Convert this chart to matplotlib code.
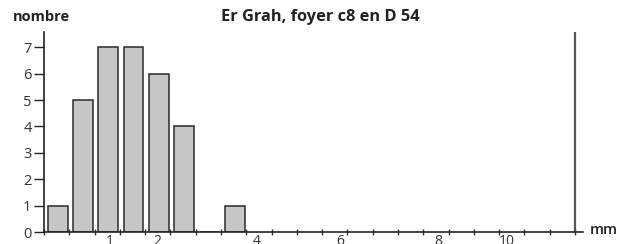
import matplotlib
matplotlib.use("Agg")
import matplotlib.pyplot as plt
import numpy as np

# Data
bin_starts = [0.0, 0.5, 1.0, 1.5, 2.0, 2.5, 3.0, 3.5]   # mm, 0.5 mm classes
counts = [1, 5, 7, 7, 6, 4, 0, 1]
yticks = [0, 1, 2, 3, 4, 5, 6, 7]
xlabel_texts = ['1', '2', '4', '6', '8', '10']
xlabel_pos = [1.3, 2.25, 4.2, 5.85, 7.8, 9.15]
title = "Er Grah, foyer c8 en D 54"

plt.rcParams['font.family'] = ['Open Sans', 'DejaVu Sans']

fig = plt.figure(figsize=(6.23, 2.44), dpi=100)
ax = fig.add_axes([44/623, 12/244, (583-44)/623, (232-32)/244])

bw = 0.5
ax.bar(np.array(bin_starts) + bw/2 + 0.02, counts, width=0.39, color='#c6c6c6',
       edgecolor='#2a2a2a', linewidth=1.1, zorder=2)

ax.set_xlim(0, 10.5 * (583-44)/(575-44))
ax.set_ylim(0, 7.58)

for s in ['top', 'right']:
    ax.spines[s].set_visible(False)
ax.spines['left'].set_color('#222222')
ax.spines['bottom'].set_color('#222222')
ax.spines['left'].set_linewidth(1.2)
ax.spines['bottom'].set_linewidth(1.2)
ax.axvline(10.5, color='#555555', lw=1.6)

# y ticks
ax.set_yticks(yticks)
ax.set_yticklabels([str(v) for v in yticks], fontsize=10.5, color='#333333')
ax.tick_params(axis='y', direction='out', length=7, width=1.0, color='#222222', pad=2)

# x major ticks every 0.5 mm, no labels
ax.set_xticks(np.arange(0, 10.51, 0.5))
ax.tick_params(axis='x', which='major', direction='inout', length=5, width=1.0,
               color='#333333', labelbottom=False)
ax.set_xticks(xlabel_pos, minor=True)
ax.set_xticklabels(xlabel_texts, minor=True, fontsize=10, color='#333333')
ax.tick_params(axis='x', which='minor', length=0, pad=1.5)

fig.text(320/623, 1 - 17/244, title, ha='center', va='center', fontsize=11.8,
         fontweight='bold', color='#222222')
fig.text(13/623, 1 - 17/244, 'nombre', ha='left', va='center', fontsize=10.5,
         fontweight='bold', color='#222222')
fig.text(590/623, 1 - 230/244, 'mm', ha='left', va='center', fontsize=10.5,
         fontweight='semibold', color='#222222')

fig.savefig('out.png', dpi=100)
